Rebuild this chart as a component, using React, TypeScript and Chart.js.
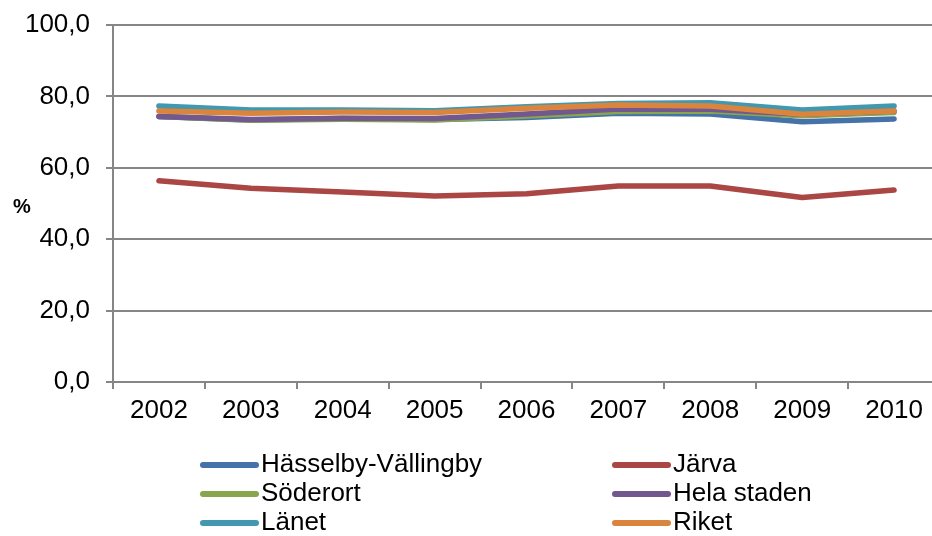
import React, { useEffect, useRef } from "react";
import { Chart, registerables } from "chart.js";

Chart.register(...registerables);

const years = ["2002", "2003", "2004", "2005", "2006", "2007", "2008", "2009", "2010"];
const hasselby = [74.4, 73.4, 73.8, 73.5, 74.1, 75.3, 75.1, 72.9, 73.7];
const jarva = [56.4, 54.3, 53.2, 52.1, 52.7, 54.9, 54.9, 51.7, 53.8];
const soderort = [74.4, 73.3, 73.6, 73.4, 74.5, 75.8, 75.9, 74.6, 75.5];
const helaStaden = [74.4, 73.5, 73.9, 73.8, 75.1, 76.5, 76.4, 75.0, 75.9];
const lanet = [77.3, 76.2, 76.2, 76.0, 77.1, 78.0, 78.2, 76.2, 77.3];
const riket = [75.9, 75.3, 75.6, 75.5, 76.7, 77.6, 77.3, 75.0, 75.9];

const seriesNames = ["Hässelby-Vällingby", "Järva", "Söderort", "Hela staden", "Länet", "Riket"];
const seriesData = [hasselby, jarva, soderort, helaStaden, lanet, riket];
const seriesColors = ["#4572A7", "#AA4643", "#89A54E", "#71588F", "#4198AF", "#DB843D"];

const FONT = "'Liberation Sans', Arial, sans-serif";
const GRID = "#868686";

const overlayPlugin = {
  id: "overlay",
  afterDraw(chart: any) {
    const ctx = chart.ctx;
    ctx.save();
    // axis title "%"
    ctx.fillStyle = "#000";
    ctx.font = `bold 20px ${FONT}`;
    ctx.textAlign = "left";
    ctx.textBaseline = "middle";
    ctx.fillText("%", 13, 207);
    // legend in two columns
    const ds = chart.data.datasets;
    const colX = [200, 612];
    const rowY = [465, 494, 523];
    ctx.font = `26px ${FONT}`;
    ds.forEach((d: any, i: number) => {
      const c = i % 2;
      const r = Math.floor(i / 2);
      const x = colX[c];
      const y = rowY[r];
      ctx.strokeStyle = d.borderColor;
      ctx.lineWidth = 6;
      ctx.lineCap = "round";
      ctx.beginPath();
      ctx.moveTo(x + 3, y);
      ctx.lineTo(x + 56, y);
      ctx.stroke();
      ctx.fillStyle = "#000";
      ctx.fillText(d.label, x + 61, y);
    });
    ctx.restore();
  },
};

export default function App() {
  const ref = useRef<HTMLCanvasElement>(null);
  useEffect(() => {
    document.body.style.margin = "0";
    const canvas = ref.current!;
    const chart = new Chart(canvas, {
      type: "line",
      data: {
        labels: years,
        datasets: seriesNames.map((name, i) => ({
          label: name,
          data: seriesData[i],
          borderColor: seriesColors[i],
          backgroundColor: seriesColors[i],
          borderWidth: 5.5,
          pointRadius: 0,
          tension: 0,
          borderCapStyle: "round",
          borderJoinStyle: "round",
          order: seriesNames.length - i,
        })),
      },
      options: {
        animation: false,
        responsive: false,
        layout: { padding: { top: 25, right: 4, left: 0, bottom: 0 } },
        plugins: { legend: { display: false }, tooltip: { enabled: false } },
        scales: {
          x: {
            type: "category",
            offset: true,
            grid: {
              offset: true,
              drawOnChartArea: false,
              drawTicks: true,
              tickLength: 7,
              color: GRID,
              lineWidth: 2,
            },
            border: { color: GRID, width: 2 },
            ticks: {
              font: { size: 26, family: FONT },
              color: "#000",
              padding: 6,
              maxRotation: 0,
              autoSkip: false,
            },
            afterFit: (s: any) => {
              s.height = 154;
              s.paddingLeft = 0;
              s.paddingRight = 0;
            },
          },
          y: {
            min: 0,
            max: 100,
            ticks: {
              stepSize: 20,
              font: { size: 26, family: FONT },
              color: "#000",
              padding: 16,
              callback: (v: any) => Number(v).toFixed(1).replace(".", ","),
            },
            grid: { color: GRID, lineWidth: 2, tickLength: 7, drawTicks: true },
            border: { color: GRID, width: 2 },
            afterFit: (s: any) => {
              s.width = 113;
              s.paddingTop = 0;
              s.paddingBottom = 0;
            },
          },
        },
      },
      plugins: [overlayPlugin],
    } as any);
    return () => chart.destroy();
  }, []);
  return (
    <div style={{ width: 932, height: 536, overflow: "hidden", background: "#fff" }}>
      <canvas ref={ref} width={944} height={536} style={{ display: "block" }} />
    </div>
  );
}
